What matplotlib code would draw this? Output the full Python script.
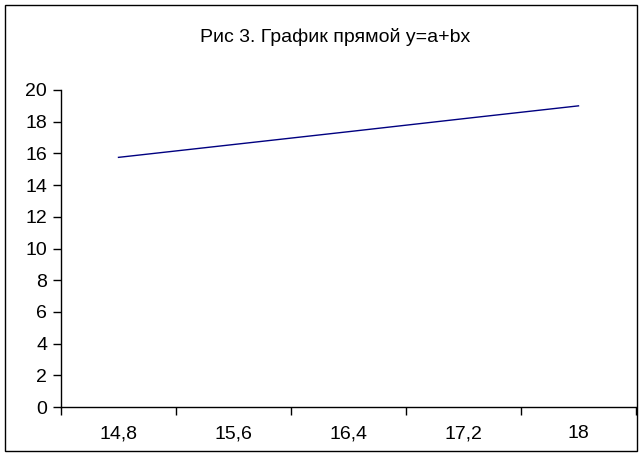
import matplotlib
matplotlib.use("Agg")
import matplotlib.pyplot as plt
from matplotlib.patches import Rectangle

categories = ["14,8", "15,6", "16,4", "17,2", "18"]
values = [15.75, 16.56, 17.37, 18.19, 19.0]
yticks = [0, 2, 4, 6, 8, 10, 12, 14, 16, 18, 20]
title = "Рис 3. График прямой y=a+bx"

plt.rcParams['font.family'] = ['Liberation Sans', 'DejaVu Sans']

W, H = 642, 457
fig = plt.figure(figsize=(W / 100, H / 100), dpi=100)
fig.patch.set_facecolor("white")

# outer chart border
fig.patches.append(Rectangle((5 / W, 6.5 / H), 631.5 / W, 445.5 / H, transform=fig.transFigure,
                             fill=False, edgecolor="black", linewidth=1.0))

left, right = 61 / W, 636 / W
bottom, top = (H - 407) / H, (H - 90) / H
ax = fig.add_axes([left, bottom, right - left, top - bottom])
ax.set_facecolor("none")

x = list(range(len(categories)))
ax.plot(x, values, color="#000080", linewidth=1.0)

ax.set_xlim(-0.5, len(categories) - 0.5)
ax.set_ylim(0, 20)
ax.set_yticks(yticks)
ax.set_yticklabels([str(v) for v in yticks], fontsize=14)
ax.set_xticks([i - 0.5 for i in range(len(categories) + 1)])
ax.set_xticklabels([])
ax.set_xticks(x, minor=True)
ax.set_xticklabels(categories, minor=True, fontsize=14)
ax.tick_params(axis="x", which="minor", length=0, pad=13)
ax.tick_params(axis="x", which="major", length=6, width=1, direction="out")
ax.tick_params(axis="y", length=6, width=1, direction="out", pad=4)

for s in ["top", "right"]:
    ax.spines[s].set_visible(False)
for s in ["left", "bottom"]:
    ax.spines[s].set_linewidth(1.0)

fig.text(335.5 / W, 1 - 37 / H, title, ha="center", va="center", fontsize=14)

fig.savefig("out.png", dpi=100)
